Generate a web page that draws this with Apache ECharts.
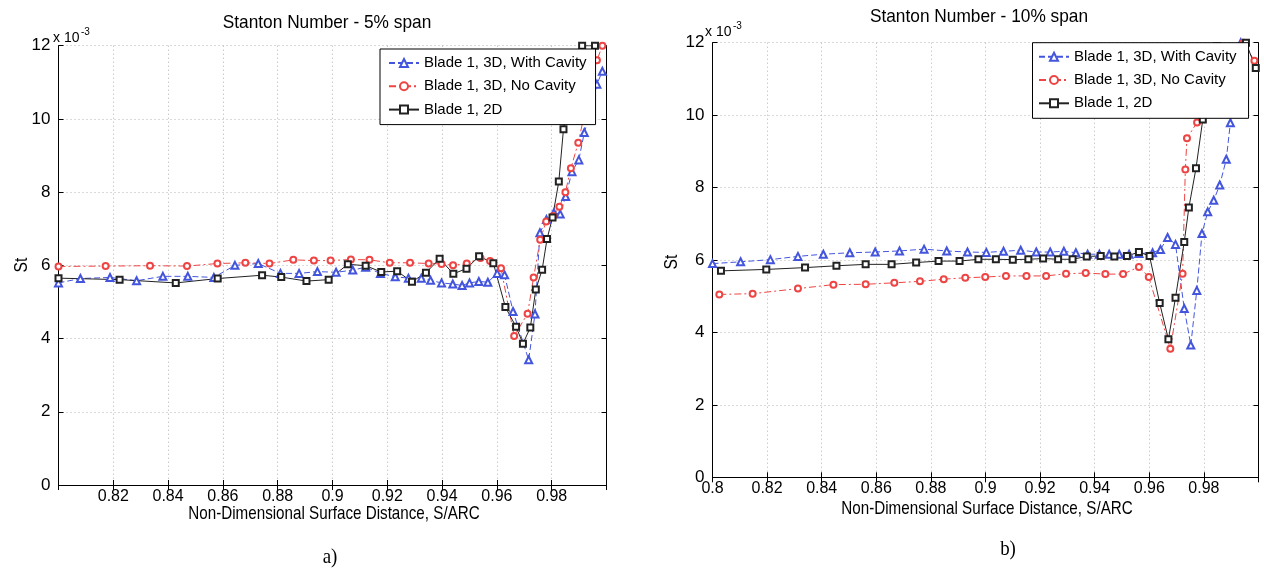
<!DOCTYPE html>
<html><head><meta charset="utf-8">
<script src="https://cdn.jsdelivr.net/npm/echarts@6/dist/echarts.min.js"></script>
<style>html,body{margin:0;padding:0;background:#fff}#c{width:1264px;height:573px}</style>
</head><body><div id="c"></div>
<script>
const FONT = "'Liberation Sans',Arial,Helvetica,sans-serif";
const SERIF = "'Liberation Serif','Times New Roman',serif";
const seriesNames = ['Blade 1, 3D, With Cavity', 'Blade 1, 3D, No Cavity', 'Blade 1, 2D'];
const panelTitles = ['Stanton Number - 5% span', 'Stanton Number - 10% span'];
const panelTags = ['a)', 'b)'];
const xAxisName = 'Non-Dimensional Surface Distance, S/ARC';
const yAxisName = 'St';
const yTickLabels = ['0', '2', '4', '6', '8', '10', '12'];
const xTickLabelsA = ['', '0.82', '0.84', '0.86', '0.88', '0.9', '0.92', '0.94', '0.96', '0.98', ''];
const xTickLabelsB = ['0.8', '0.82', '0.84', '0.86', '0.88', '0.9', '0.92', '0.94', '0.96', '0.98', ''];

// ---- panel a) 5% span (St in units of 1e-3) ----
const aCavX = [0.800, 0.808, 0.8188, 0.8285, 0.8381, 0.8472, 0.8567, 0.8644, 0.8729, 0.881, 0.8878, 0.8945, 0.9013, 0.9074, 0.9121, 0.9175, 0.9229, 0.9277, 0.9324, 0.9358, 0.9398, 0.9439, 0.9473, 0.950, 0.9534, 0.9567, 0.9601, 0.9628, 0.9659, 0.9716, 0.9739, 0.9757, 0.9781, 0.9808, 0.9831, 0.9851, 0.9874, 0.9899, 0.9919, 0.9943, 0.9965, 0.9985];
const aCavY = [5.52, 5.64, 5.67, 5.58, 5.70, 5.70, 5.67, 6.00, 6.05, 5.78, 5.78, 5.83, 5.81, 5.87, 5.95, 5.78, 5.69, 5.65, 5.65, 5.59, 5.52, 5.49, 5.45, 5.52, 5.56, 5.54, 5.78, 5.74, 4.74, 3.42, 4.67, 6.89, 7.25, 7.44, 7.40, 7.88, 8.56, 8.88, 9.63, 10.2, 10.95, 11.3];
const aNoCavX = [0.800, 0.8172, 0.8334, 0.8469, 0.858, 0.8682, 0.877, 0.8857, 0.8932, 0.8993, 0.9067, 0.9135, 0.9209, 0.9283, 0.9351, 0.9398, 0.944, 0.949, 0.954, 0.9575, 0.9615, 0.9663, 0.9712, 0.9734, 0.9758, 0.9780, 0.9805, 0.9828, 0.985, 0.987, 0.9897, 0.9917, 0.994, 0.9965, 0.9985];
const aNoCavY = [5.97, 5.98, 5.99, 5.98, 6.05, 6.07, 6.05, 6.15, 6.13, 6.13, 6.16, 6.15, 6.07, 6.07, 6.05, 6.04, 6.00, 6.05, 6.20, 6.12, 5.92, 4.07, 4.68, 5.67, 6.70, 7.20, 7.35, 7.60, 8.00, 8.65, 9.35, 10.05, 10.8, 11.6, 12.0];
const a2DX = [0.800, 0.8223, 0.8428, 0.8581, 0.8743, 0.8813, 0.8905, 0.8986, 0.9056, 0.9121, 0.9178, 0.9236, 0.929, 0.9341, 0.9391, 0.9441, 0.9489, 0.9535, 0.9587, 0.9631, 0.967, 0.9695, 0.9722, 0.9742, 0.9765, 0.9783, 0.9803, 0.9826, 0.9843, 0.9866, 0.9889, 0.9911, 0.9958];
const a2DY = [5.65, 5.61, 5.52, 5.64, 5.73, 5.68, 5.57, 5.61, 6.03, 5.99, 5.82, 5.84, 5.55, 5.80, 6.18, 5.77, 5.91, 6.25, 6.06, 4.86, 4.32, 3.86, 4.30, 5.34, 5.88, 6.72, 7.31, 8.29, 9.72, 10.9, 11.8, 12.0, 12.0];

// ---- panel b) 10% span ----
const bCavX = [0.800, 0.8103, 0.8212, 0.8313, 0.8406, 0.8503, 0.8596, 0.8685, 0.8775, 0.8858, 0.8934, 0.9003, 0.9066, 0.9129, 0.9186, 0.9237, 0.9287, 0.9331, 0.9374, 0.9417, 0.9453, 0.949, 0.9526, 0.9562, 0.9612, 0.9641, 0.9667, 0.9696, 0.9728, 0.9752, 0.9774, 0.9793, 0.9814, 0.9836, 0.9858, 0.9882, 0.9897, 0.9916, 0.9935];
const bCavY = [5.90, 5.95, 6.01, 6.10, 6.16, 6.20, 6.22, 6.25, 6.30, 6.25, 6.22, 6.21, 6.24, 6.27, 6.22, 6.22, 6.24, 6.20, 6.16, 6.16, 6.16, 6.16, 6.16, 6.18, 6.20, 6.29, 6.62, 6.43, 4.66, 3.65, 5.16, 6.73, 7.33, 7.65, 8.07, 8.78, 9.79, 10.9, 12.0];
const bNoCavX = [0.8025, 0.8147, 0.8313, 0.8443, 0.8561, 0.8666, 0.876, 0.8847, 0.8926, 0.8999, 0.9075, 0.915, 0.9222, 0.9295, 0.9367, 0.9439, 0.9504, 0.9562, 0.9598, 0.9677, 0.9722, 0.9732, 0.9738, 0.9775, 0.980, 0.983, 0.986, 0.9945, 0.9985];
const bNoCavY = [5.05, 5.07, 5.21, 5.32, 5.33, 5.37, 5.41, 5.47, 5.51, 5.53, 5.56, 5.56, 5.56, 5.62, 5.64, 5.61, 5.61, 5.81, 5.53, 3.55, 5.62, 8.5, 9.36, 9.8, 10.3, 11.0, 11.8, 12.0, 11.5];
const b2DX = [0.8031, 0.8197, 0.8339, 0.8454, 0.8561, 0.8656, 0.8746, 0.8828, 0.8905, 0.8974, 0.9038, 0.91, 0.9157, 0.9211, 0.9266, 0.9319, 0.9371, 0.9422, 0.9472, 0.9518, 0.9562, 0.9601, 0.9638, 0.967, 0.9696, 0.9728, 0.9745, 0.9771, 0.9796, 0.9822, 0.9848, 0.9954, 0.999];
const b2DY = [5.70, 5.74, 5.79, 5.84, 5.88, 5.88, 5.93, 5.97, 5.97, 6.02, 6.02, 6.01, 6.02, 6.04, 6.02, 6.02, 6.10, 6.11, 6.10, 6.11, 6.22, 6.11, 4.81, 3.81, 4.96, 6.50, 7.45, 8.53, 9.88, 11.0, 11.9, 12.0, 11.3];

const zip = (xs, ys) => xs.map((x, i) => [x, ys[i]]);
const BLUE = '#4455dd', RED = '#ee4444', BLACK = '#222222';

const grids = [
  {left: 58.5, top: 45.7, width: 548, height: 439.3},
  {left: 712.5, top: 42.7, width: 546, height: 434.6}
];
const xTickFmt = labels => v => { const i = Math.round((v - 0.8) / 0.02); return labels[i] !== undefined ? labels[i] : ''; };
const yTickFmt = v => { const i = Math.round(v / 2); return yTickLabels[i] !== undefined ? yTickLabels[i] : ''; };
const axisLineS = {show: true, lineStyle: {color: '#000', width: 1}};
const gridLineS = {show: true, lineStyle: {color: '#b4b4b4', type: [1, 3], width: 1}};
const tickS = {show: true, inside: true, length: 5, lineStyle: {color: '#000'}};

function xAxes(gi, labels, margin) {
  return [
    {type: 'value', gridIndex: gi, position: 'bottom', min: 0.8, max: 1.0, interval: 0.02,
     axisLine: axisLineS, axisTick: tickS, splitLine: gridLineS,
     axisLabel: {formatter: xTickFmt(labels), color: '#000', fontFamily: FONT, fontSize: 16, margin: margin, showMinLabel: true, showMaxLabel: true}},
    {type: 'value', gridIndex: gi, position: 'top', min: 0.8, max: 1.0, interval: 0.02,
     axisLine: axisLineS, axisTick: tickS, splitLine: {show: false}, axisLabel: {show: false}}
  ];
}
function yAxes(gi, margin) {
  return [
    {type: 'value', gridIndex: gi, position: 'left', min: 0, max: 12, interval: 2,
     axisLine: axisLineS, axisTick: tickS, splitLine: gridLineS,
     axisLabel: {formatter: yTickFmt, color: '#000', fontFamily: FONT, fontSize: 17, margin: margin}},
    {type: 'value', gridIndex: gi, position: 'right', min: 0, max: 12, interval: 2,
     axisLine: axisLineS, axisTick: tickS, splitLine: {show: false}, axisLabel: {show: false}}
  ];
}

const styles = [
  {color: BLUE, symbol: 'emptyTriangle', symbolSize: 7, type: [6, 3]},
  {color: RED, symbol: 'emptyCircle', symbolSize: 6, type: [7, 3, 2, 3]},
  {color: BLACK, symbol: 'emptyRect', symbolSize: 6, type: 'solid'}
];
function mkSeries(idx, data, axisIdx) {
  const s = styles[idx];
  return {
    name: seriesNames[idx], type: 'line', data: data,
    xAxisIndex: axisIdx, yAxisIndex: axisIdx,
    symbol: s.symbol, symbolSize: s.symbolSize, showAllSymbol: true,
    itemStyle: {color: s.color, borderWidth: 1},
    lineStyle: {color: s.color, width: 1, type: s.type},
    animation: false, z: 3
  };
}

const legendBase = {
  orient: 'vertical', backgroundColor: '#fff', borderColor: '#000', borderWidth: 1,
  itemWidth: 30, itemHeight: 10, itemGap: 6.3, selectedMode: false, z: 10,
  textStyle: {color: '#000', fontFamily: FONT, fontSize: 15, lineHeight: 17},
  data: seriesNames
};

function txt(x, y, text, size, opts) {
  opts = opts || {};
  return {type: 'text', x: x, y: y, rotation: opts.rotation || 0, scaleX: opts.scaleX || 1, z: 20,
    style: {text: text, font: size + 'px ' + (opts.family || FONT), fill: '#000',
            align: opts.align || 'center', verticalAlign: 'middle'}};
}

const option = {
  backgroundColor: '#fff',
  animation: false,
  grid: grids,
  xAxis: [...xAxes(0, xTickLabelsA, 4), ...xAxes(1, xTickLabelsB, 3)],
  yAxis: [...yAxes(0, 8), ...yAxes(1, 8)],
  legend: [
    Object.assign({}, legendBase, {left: 380, top: 49, padding: [5.5, 9, 6.5, 8]}),
    Object.assign({}, legendBase, {left: 1032.5, top: 42.7, padding: [5.5, 12, 6.5, 5.5]})
  ],
  series: [
    mkSeries(0, zip(aCavX, aCavY), 0),
    mkSeries(1, zip(aNoCavX, aNoCavY), 0),
    mkSeries(2, zip(a2DX, a2DY), 0),
    mkSeries(0, zip(bCavX, bCavY), 2),
    mkSeries(1, zip(bNoCavX, bNoCavY), 2),
    mkSeries(2, zip(b2DX, b2DY), 2)
  ],
  graphic: [
    txt(327, 23, panelTitles[0], 19, {scaleX: 0.91}),
    txt(979, 17, panelTitles[1], 19, {scaleX: 0.91}),
    txt(334, 514, xAxisName, 19, {scaleX: 0.8}),
    txt(987, 509, xAxisName, 19, {scaleX: 0.8}),
    txt(22, 265, yAxisName, 19, {rotation: Math.PI / 2, scaleX: 0.83}),
    txt(672, 262, yAxisName, 19, {rotation: Math.PI / 2, scaleX: 0.83}),
    txt(53, 38, 'x 10', 14, {align: 'left'}),
    txt(81, 32, '-3', 10, {align: 'left'}),
    txt(705, 32.5, 'x 10', 14, {align: 'left'}),
    txt(733, 26, '-3', 10, {align: 'left'}),
    txt(330, 557, panelTags[0], 21, {family: SERIF, scaleX: 0.9}),
    txt(1008, 549, panelTags[1], 21, {family: SERIF, scaleX: 0.9})
  ]
};

const chart = echarts.init(document.getElementById('c'), null, {renderer: 'canvas'});
chart.setOption(option);
</script>
</body></html>
